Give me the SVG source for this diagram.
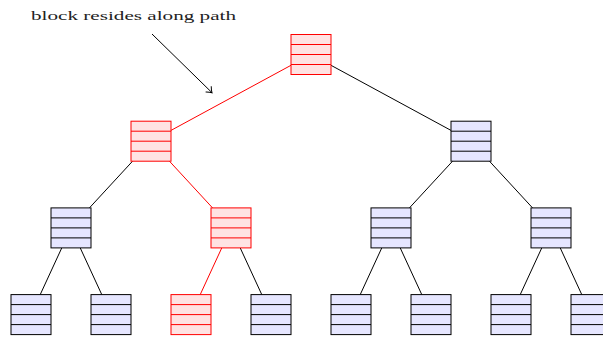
<svg xmlns="http://www.w3.org/2000/svg" width="603" height="337" viewBox="0 0 603 337">
<style>
.b rect{fill:#e6e6ff;stroke:#000;stroke-width:1}
.b path{fill:none;stroke:#000;stroke-width:1}
.r rect{fill:#ffe3e3;stroke:#ff0000;stroke-width:1}
.r path{fill:none;stroke:#ff0000;stroke-width:1}
.e{stroke:#000;stroke-width:1;fill:none}
.er{stroke:#ff0000;stroke-width:1;fill:none}
.lbl{font-family:"Liberation Serif","DejaVu Serif",serif;font-size:12.5px;fill:#222}
</style>
<defs>
<marker id="arr" markerWidth="10" markerHeight="10" refX="8" refY="5" orient="auto" markerUnits="userSpaceOnUse">
<path d="M3,1 Q6,4 8,5 Q6,6 3,9" fill="none" stroke="#000" stroke-width="1"/>
</marker>
</defs>
<g id="connectors">
<line class="er" x1="291" y1="65.3" x2="171" y2="130.4"/>
<line class="e" x1="331" y1="65.3" x2="451" y2="130.4"/>
<line class="e" x1="132.55" y1="161.2" x2="89.45" y2="207.9"/>
<line class="er" x1="169.45" y1="161.2" x2="212.55" y2="207.9"/>
<line class="e" x1="452.55" y1="161.2" x2="409.45" y2="207.9"/>
<line class="e" x1="489.45" y1="161.2" x2="532.55" y2="207.9"/>
<line class="e" x1="61.77" y1="247.9" x2="40.23" y2="294.6"/>
<line class="e" x1="80.23" y1="247.9" x2="101.77" y2="294.6"/>
<line class="er" x1="221.77" y1="247.9" x2="200.23" y2="294.6"/>
<line class="e" x1="240.23" y1="247.9" x2="261.77" y2="294.6"/>
<line class="e" x1="381.77" y1="247.9" x2="360.23" y2="294.6"/>
<line class="e" x1="400.23" y1="247.9" x2="421.77" y2="294.6"/>
<line class="e" x1="541.77" y1="247.9" x2="520.23" y2="294.6"/>
<line class="e" x1="560.23" y1="247.9" x2="581.77" y2="294.6"/>
<line class="e" x1="152" y1="34" x2="212" y2="92.7" marker-end="url(#arr)"/>
</g>
<g id="n0" class="r" transform="translate(291,34.5)"><rect width="40" height="40"/><path d="M0,10H40M0,20H40M0,30H40"/></g>
<g id="n1" class="r" transform="translate(131,121.2)"><rect width="40" height="40"/><path d="M0,10H40M0,20H40M0,30H40"/></g>
<g id="n2" class="b" transform="translate(451,121.2)"><rect width="40" height="40"/><path d="M0,10H40M0,20H40M0,30H40"/></g>
<g id="n3" class="b" transform="translate(51,207.9)"><rect width="40" height="40"/><path d="M0,10H40M0,20H40M0,30H40"/></g>
<g id="n4" class="r" transform="translate(211,207.9)"><rect width="40" height="40"/><path d="M0,10H40M0,20H40M0,30H40"/></g>
<g id="n5" class="b" transform="translate(371,207.9)"><rect width="40" height="40"/><path d="M0,10H40M0,20H40M0,30H40"/></g>
<g id="n6" class="b" transform="translate(531,207.9)"><rect width="40" height="40"/><path d="M0,10H40M0,20H40M0,30H40"/></g>
<g id="n7" class="b" transform="translate(11,294.6)"><rect width="40" height="40"/><path d="M0,10H40M0,20H40M0,30H40"/></g>
<g id="n8" class="b" transform="translate(91,294.6)"><rect width="40" height="40"/><path d="M0,10H40M0,20H40M0,30H40"/></g>
<g id="n9" class="r" transform="translate(171,294.6)"><rect width="40" height="40"/><path d="M0,10H40M0,20H40M0,30H40"/></g>
<g id="n10" class="b" transform="translate(251,294.6)"><rect width="40" height="40"/><path d="M0,10H40M0,20H40M0,30H40"/></g>
<g id="n11" class="b" transform="translate(331,294.6)"><rect width="40" height="40"/><path d="M0,10H40M0,20H40M0,30H40"/></g>
<g id="n12" class="b" transform="translate(411,294.6)"><rect width="40" height="40"/><path d="M0,10H40M0,20H40M0,30H40"/></g>
<g id="n13" class="b" transform="translate(491,294.6)"><rect width="40" height="40"/><path d="M0,10H40M0,20H40M0,30H40"/></g>
<g id="n14" class="b" transform="translate(571,294.6)"><rect width="40" height="40"/><path d="M0,10H40M0,20H40M0,30H40"/></g>
<g id="label"><text class="lbl" x="31" y="20" textLength="205" lengthAdjust="spacingAndGlyphs">block resides along path</text></g>
</svg>
